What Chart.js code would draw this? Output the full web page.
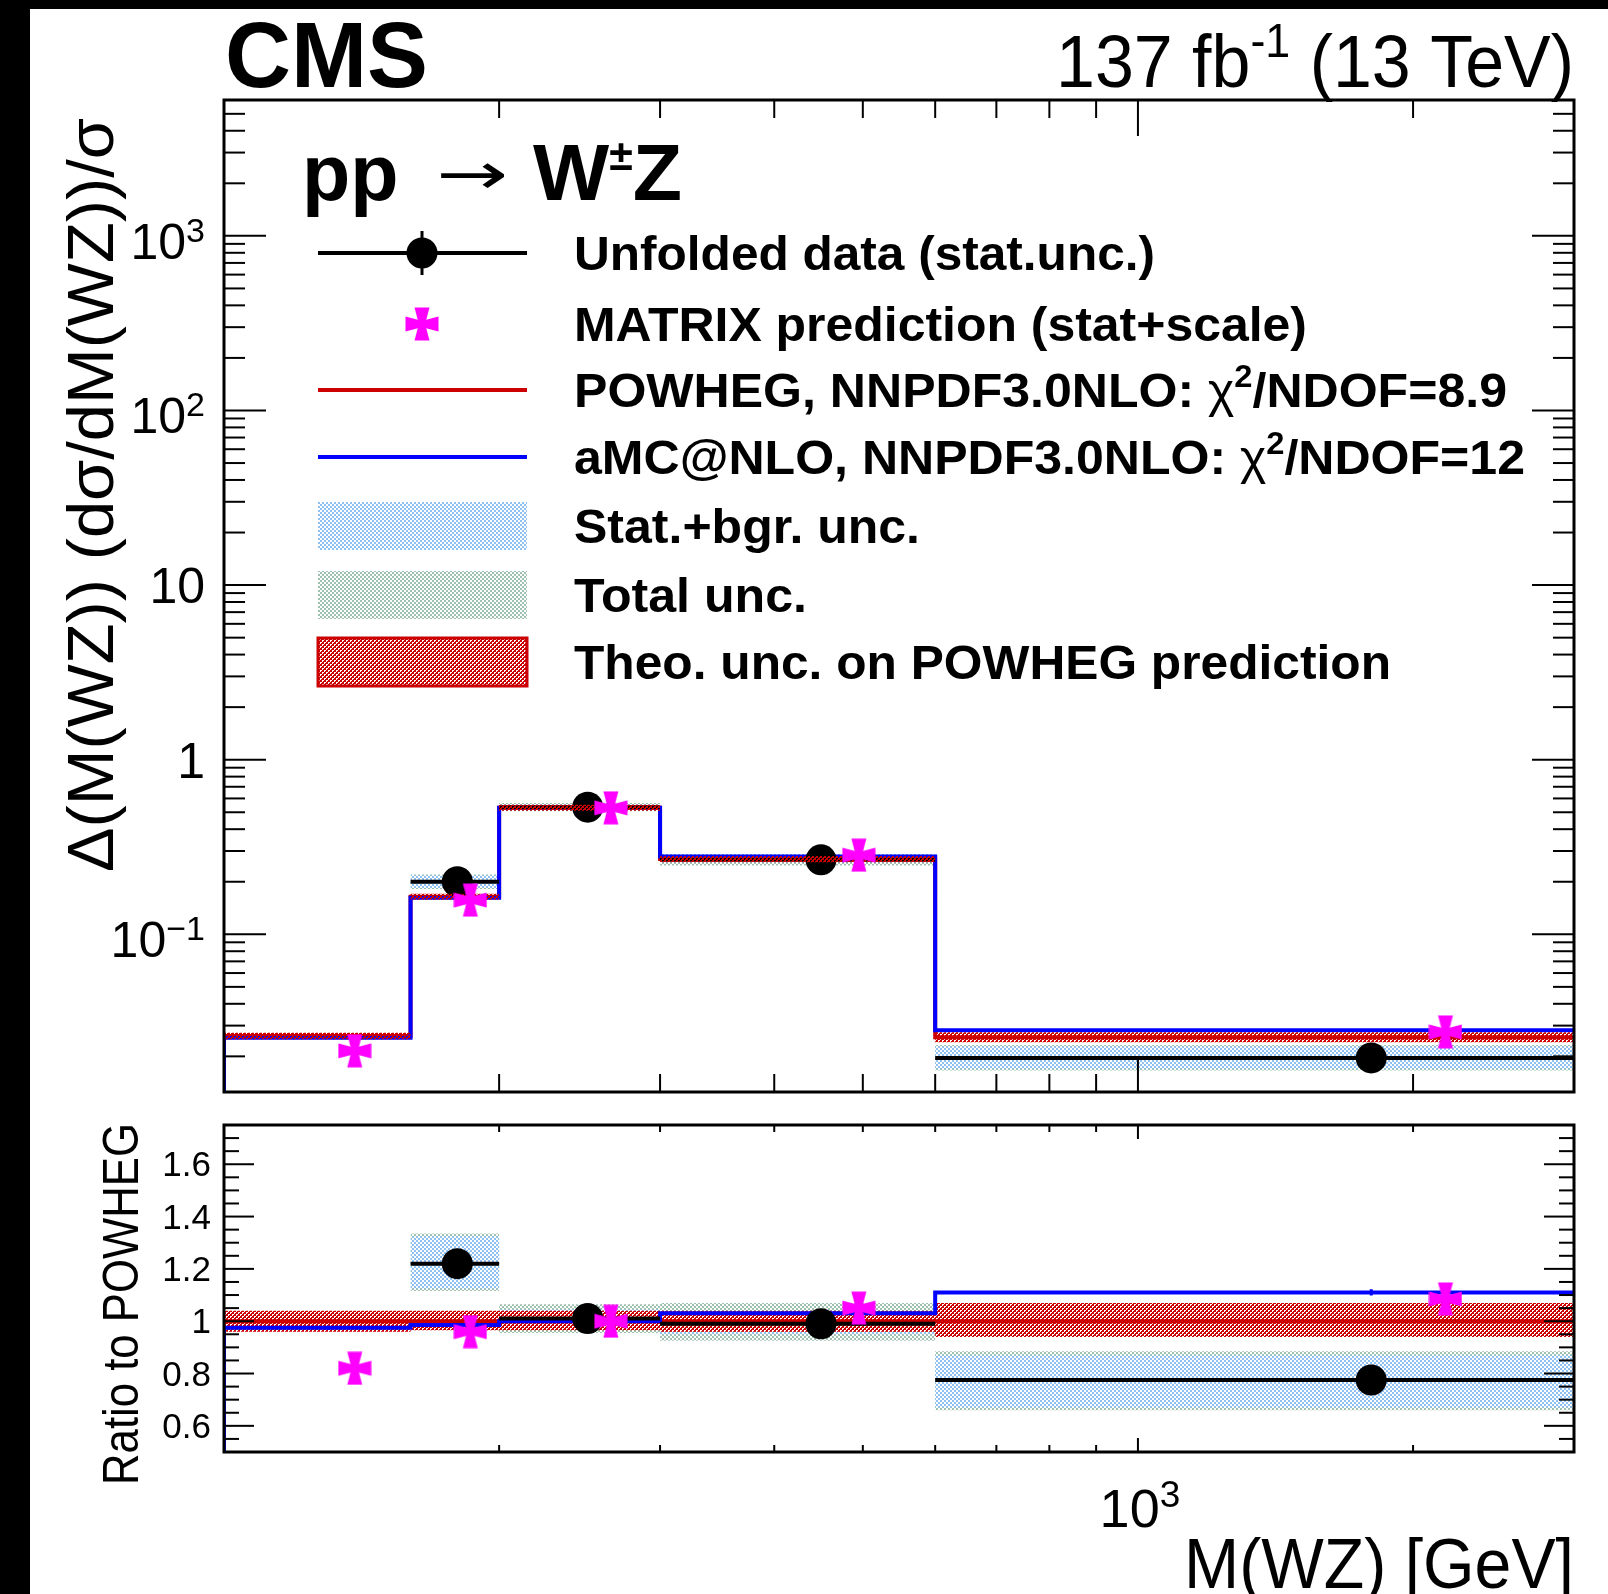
<!DOCTYPE html>
<html>
<head>
<meta charset="utf-8">
<title>WZ invariant mass</title>
<script src="https://cdn.jsdelivr.net/npm/chart.js@4.4.1/dist/chart.umd.min.js"></script>
<style>
  html, body { margin: 0; padding: 0; background: #fff; }
  #page { position: relative; width: 1608px; height: 1594px; overflow: hidden; background: #fff; }
  #page canvas { position: absolute; left: 0; top: 0; }
  .edge-top { position: absolute; left: 0; top: 0; width: 1608px; height: 9px; background: #000; }
  .edge-left { position: absolute; left: 0; top: 0; width: 30px; height: 1594px; background: #000; }
</style>
</head>
<body>
<div id="page">
  <canvas id="upper" width="1608" height="1594"></canvas>
  <canvas id="lower" width="1608" height="1594"></canvas>
  <div class="edge-top"></div>
  <div class="edge-left"></div>
</div>
<script>
// bins in M(WZ) [GeV] and where the markers sit inside them
const binEdges = [100, 160, 200, 300, 600, 3000];
const dataMass = [130, 180, 250, 450, 1800];
const matrixMass = [139, 186, 265, 495, 2170];

// upper pad: normalised differential cross section
const powhegXs = [0.0262, 0.164, 0.530, 0.270, 0.0257];
const amcXs = [0.0256, 0.162, 0.530, 0.279, 0.0282];
const matrixXs = [0.0215, 0.157, 0.530, 0.284, 0.0276];
const dataXs = [null, 0.200, 0.535, 0.267, 0.0196];
const dataXsErr = [null, 0.005, 0.008, 0.004, 0.0009];
const statLoXs = [null, 0.184, 0.515, 0.257, 0.0170];
const statHiXs = [null, 0.217, 0.555, 0.278, 0.0228];
const totalLoXs = [null, 0.182, 0.506, 0.248, 0.0166];
const totalHiXs = [null, 0.220, 0.565, 0.288, 0.0232];
const theoLoXs = [0.0251, 0.158, 0.510, 0.259, 0.0241];
const theoHiXs = [0.0273, 0.171, 0.552, 0.281, 0.0275];

// lower pad: ratio to POWHEG
const ratioPowheg = [1, 1, 1, 1, 1];
const ratioPowhegErr = [0.006, 0.006, 0.004, 0.004, 0.008];
const ratioAmc = [0.975, 0.985, 1.0, 1.03, 1.11];
const ratioAmcErr = [0.008, 0.008, 0.005, 0.005, 0.012];
const ratioMatrix = [0.82, 0.96, 1.0, 1.05, 1.085];
const ratioData = [null, 1.22, 1.01, 0.99, 0.775];
const ratioDataErr = [null, 0.032, 0.015, 0.012, 0.045];
const ratioStatLo = [null, 1.125, 0.975, 0.95, 0.67];
const ratioStatHi = [null, 1.325, 1.045, 1.035, 0.87];
const ratioTotalLo = [null, 1.115, 0.955, 0.925, 0.66];
const ratioTotalHi = [null, 1.335, 1.065, 1.07, 0.885];
const ratioTheoLo = [0.96, 0.965, 0.965, 0.96, 0.94];
const ratioTheoHi = [1.04, 1.04, 1.04, 1.04, 1.07];

// axis ranges and tick labels
const massRange = [100, 3000];
const xsRange = [0.0125, 6000];
const ratioRange = [0.5, 1.75];
const xMinorTicks = [200, 300, 400, 500, 600, 700, 800, 900, 2000];
const xMajorTicks = [1000];
const xTickLabels = [['10', '3']];
const yTickValues = [0.1, 1, 10, 100, 1000];
const yTickLabels = [['10', '\u22121'], ['1', ''], ['10', ''], ['10', '2'], ['10', '3']];
const ratioTickValues = [0.6, 0.8, 1, 1.2, 1.4, 1.6];
const ratioTickLabels = ['0.6', '0.8', '1', '1.2', '1.4', '1.6'];

const FAMILY = '"Liberation Sans", Arial, Helvetica, sans-serif';
const font = (size, bold) => (bold ? 'bold ' : '') + size + 'px ' + FAMILY;

const RED = '#cc0000';
const BLUE = '#0000ff';
const MAGENTA = '#ff00ff';

// ROOT-like fill patterns: coloured 2px cells, transparent in between
function checker(color, dense) {
  const tile = document.createElement('canvas');
  tile.width = 4; tile.height = 4;
  const g = tile.getContext('2d');
  g.fillStyle = color;
  g.fillRect(0, 0, 2, 2);
  g.fillRect(2, 2, 2, 2);
  if (dense) {
    g.fillRect(3, 1, 1, 1);
    g.fillRect(1, 3, 1, 1);
  }
  return g.createPattern(tile, 'repeat');
}
const statFill = checker('#8ec0f2');
const totalFill = checker('#9fc2b0');
const theoFill = checker(RED, true);

// MATRIX marker: four flared arms
function makeStar() {
  const c = document.createElement('canvas');
  c.width = 34; c.height = 34;
  const g = c.getContext('2d');
  g.fillStyle = MAGENTA;
  g.translate(17, 17);
  for (let k = 0; k < 4; k++) {
    g.beginPath();
    g.moveTo(-3, 0.5);
    g.lineTo(-7.5, -16.5);
    g.lineTo(7.5, -16.5);
    g.lineTo(3, 0.5);
    g.closePath();
    g.fill();
    g.rotate(Math.PI / 2);
  }
  return c;
}
const star = makeStar();

// histogram outline: a point at every low edge plus the last high edge
function histo(vals, floor) {
  const pts = [];
  let last = -1;
  vals.forEach((v, i) => {
    if (v === null) return;
    pts.push({ x: binEdges[i], y: v });
    last = i;
  });
  pts.push({ x: binEdges[last + 1], y: vals[last] });
  if (floor !== undefined) pts.unshift({ x: binEdges[0], y: floor });
  return pts;
}

// horizontal bars spanning each bin, broken by null points
function binBars(vals) {
  const pts = [];
  vals.forEach((v, i) => {
    if (v === null) return;
    pts.push({ x: binEdges[i], y: v }, { x: binEdges[i + 1], y: v }, { x: binEdges[i + 1], y: null });
  });
  return pts;
}

function errBars(xs, vals, errs) {
  const pts = [];
  vals.forEach((v, i) => {
    if (v === null) return;
    pts.push({ x: xs[i], y: v - errs[i] }, { x: xs[i], y: v + errs[i] }, { x: xs[i], y: null });
  });
  return pts;
}

const markers = (xs, vals) => vals.map((v, i) => ({ x: xs[i], y: v }));

// invisible stepped edges that only carry a band fill
const edge = (data, extra) => Object.assign(
  { data, stepped: true, borderWidth: 0, borderColor: 'transparent', pointRadius: 0, order: 20 }, extra || {});

function padDatasets(p) {
  const sets = [
    { data: markers(matrixMass, p.matrix), showLine: false, pointStyle: star, pointRadius: 16, order: 0 },
    { data: markers(dataMass, p.data), showLine: false, pointStyle: 'circle', pointRadius: 15.5,
      pointBackgroundColor: '#000', pointBorderColor: '#000', pointBorderWidth: 0, order: 2 },
    { data: binBars(p.data), borderColor: '#000', borderWidth: 4, pointRadius: 0, order: 2 },
    { data: errBars(dataMass, p.data, p.dataErr), borderColor: '#000', borderWidth: 3, pointRadius: 0, order: 2 },
    { data: histo(p.amc, p.floor), stepped: true, borderColor: BLUE, borderWidth: 4, pointRadius: 0, order: 3 },
    { data: histo(p.powheg), stepped: true, borderColor: RED, borderWidth: 4, pointRadius: 0, order: 4 },
    edge(histo(p.theoLo)),                                                                  // 6
    edge(histo(p.theoHi), { fill: 6, backgroundColor: theoFill, order: p.theoOrder }),
    edge(histo(p.statLo)),                                                                  // 8
    edge(histo(p.statHi), { fill: 8, backgroundColor: statFill, order: 6 }),
    edge(histo(p.totalLo)),                                                                 // 10
    edge(histo(p.totalHi), { fill: 10, backgroundColor: totalFill, order: 7 })
  ];
  if (p.amcErr) {
    sets.push({ data: errBars(dataMass, p.amc, p.amcErr), borderColor: BLUE, borderWidth: 3, pointRadius: 0, order: 3 });
    sets.push({ data: errBars(dataMass, p.powheg, p.powhegErr), borderColor: RED, borderWidth: 3, pointRadius: 0, order: 4 });
  }
  return sets;
}

// text made of pieces (superscripts, symbol glyphs), optionally squeezed to a width
function richText(ctx, parts, x, y, align, fitWidth) {
  let w = 0;
  const pieces = parts.map(([t, f, dy]) => {
    ctx.font = f;
    const pw = ctx.measureText(t).width;
    w += pw;
    return { t, f, dy: dy || 0, pw };
  });
  const sx = fitWidth ? fitWidth / w : 1;
  ctx.save();
  ctx.translate(x, y);
  ctx.scale(sx, 1);
  ctx.textAlign = 'left';
  ctx.textBaseline = 'alphabetic';
  let cx = align === 'right' ? -w : align === 'center' ? -w / 2 : 0;
  pieces.forEach(s => {
    ctx.font = s.f;
    ctx.fillText(s.t, cx, s.dy);
    cx += s.pw;
  });
  ctx.restore();
}

function seg(ctx, x0, y0, x1, y1) {
  ctx.beginPath();
  ctx.moveTo(x0, y0);
  ctx.lineTo(x1, y1);
  ctx.stroke();
}

function xTicks(ctx, a, xs, minor, major) {
  xMinorTicks.concat(xMajorTicks).forEach(v => {
    const px = xs.getPixelForValue(v);
    const len = xMajorTicks.includes(v) ? major : minor;
    seg(ctx, px, a.bottom, px, a.bottom - len);
    seg(ctx, px, a.top, px, a.top + len);
  });
}

const B49 = font(49, true);
const R49 = font(49, false);
const S32 = font(32, true);
const legendLabels = [
  [['Unfolded data (stat.unc.)', B49]],
  [['MATRIX prediction (stat+scale)', B49]],
  [['POWHEG, NNPDF3.0NLO: ', B49], ['\u03c7', R49], ['2', S32, -20], ['/NDOF=8.9', B49]],
  [['aMC@NLO, NNPDF3.0NLO: ', B49], ['\u03c7', R49], ['2', S32, -20], ['/NDOF=12', B49]],
  [['Stat.+bgr. unc.', B49]],
  [['Total unc.', B49]],
  [['Theo. unc. on POWHEG prediction', B49]]
];
const legendWidths = [581, 733, 933, 951, 346, 233, 817];

function drawLegend(ctx) {
  const x0 = 318, x1 = 527, xm = 422, tx = 574;
  const rows = [253, 324, 390, 457, 526, 595, 662];
  ctx.save();
  // data
  ctx.strokeStyle = '#000';
  ctx.lineWidth = 4;
  seg(ctx, x0, rows[0], x1, rows[0]);
  ctx.lineWidth = 3;
  seg(ctx, xm, rows[0] - 22, xm, rows[0] + 22);
  ctx.fillStyle = '#000';
  ctx.beginPath();
  ctx.arc(xm, rows[0], 15.5, 0, Math.PI * 2);
  ctx.fill();
  // MATRIX
  ctx.drawImage(star, xm - 17, rows[1] - 17);
  // POWHEG and aMC@NLO lines
  ctx.lineWidth = 4;
  ctx.strokeStyle = RED;
  seg(ctx, x0, rows[2], x1, rows[2]);
  ctx.strokeStyle = BLUE;
  seg(ctx, x0, rows[3], x1, rows[3]);
  // uncertainty boxes
  ctx.fillStyle = statFill;
  ctx.fillRect(x0, rows[4] - 24, x1 - x0, 48);
  ctx.fillStyle = totalFill;
  ctx.fillRect(x0, rows[5] - 24, x1 - x0, 48);
  ctx.fillStyle = theoFill;
  ctx.fillRect(x0, rows[6] - 24, x1 - x0, 48);
  ctx.strokeStyle = RED;
  ctx.lineWidth = 3;
  ctx.strokeRect(x0, rows[6] - 24, x1 - x0, 48);
  // labels
  ctx.fillStyle = '#000';
  legendLabels.forEach((parts, i) => richText(ctx, parts, tx, rows[i] + 17, 'left', legendWidths[i]));
  ctx.restore();
}

const upperDecor = {
  id: 'upperDecor',
  afterDraw(chart) {
    const { ctx, chartArea: a } = chart;
    const xs = chart.scales.x, ys = chart.scales.y;
    ctx.save();
    ctx.strokeStyle = '#000';
    ctx.fillStyle = '#000';
    ctx.lineWidth = 2;
    xTicks(ctx, a, xs, 18, 36);
    for (let d = -2; d <= 3; d++) {
      for (let k = 1; k <= 9; k++) {
        const v = k * Math.pow(10, d);
        if (v <= ys.min || v >= ys.max) continue;
        const py = ys.getPixelForValue(v);
        const len = k === 1 ? 42 : 21;
        seg(ctx, a.left, py, a.left + len, py);
        seg(ctx, a.right, py, a.right - len, py);
      }
    }
    ctx.lineWidth = 3;
    ctx.strokeRect(a.left, a.top, a.width, a.height);

    // y tick labels
    yTickValues.forEach((v, i) => {
      const py = ys.getPixelForValue(v);
      const [base, sup] = yTickLabels[i];
      if (sup) richText(ctx, [[base, font(50)], [sup, font(34), -17]], 205, py + 23, 'right');
      else richText(ctx, [[base, font(50)]], 205, py + 18, 'right');
    });

    // y title
    ctx.save();
    ctx.translate(113, 118);
    ctx.rotate(-Math.PI / 2);
    richText(ctx, [['\u0394(M(WZ)) (d\u03c3/dM(WZ))/\u03c3', font(64)]], 0, 0, 'right', 754);
    ctx.restore();

    // header
    richText(ctx, [['CMS', font(92, true)]], 225, 87, 'left', 203);
    richText(ctx, [['137 fb', font(75)], ['-1', font(48), -30], [' (13 TeV)', font(75)]], 1574, 87, 'right', 518);

    // process label
    richText(ctx, [['pp', font(79, true)]], 302, 200, 'left');
    richText(ctx, [['\u2192', '58px "DejaVu Sans", sans-serif']], 436, 194, 'left', 72);
    richText(ctx, [['W', font(79, true)], ['\u00b1', font(42, true), -30], ['Z', font(79, true)]], 533, 200, 'left', 149);

    drawLegend(ctx);
    ctx.restore();
  }
};

const lowerDecor = {
  id: 'lowerDecor',
  afterDraw(chart) {
    const { ctx, chartArea: a } = chart;
    const xs = chart.scales.x, ys = chart.scales.y;
    ctx.save();
    ctx.strokeStyle = '#000';
    ctx.fillStyle = '#000';
    ctx.lineWidth = 2;
    xTicks(ctx, a, xs, 7, 14);
    for (let i = 11; i <= 34; i++) {
      const v = i * 0.05;
      const major = i % 4 === 0;
      const py = ys.getPixelForValue(v);
      const len = major ? 30 : 15;
      seg(ctx, a.left, py, a.left + len, py);
      seg(ctx, a.right, py, a.right - len, py);
    }
    ctx.lineWidth = 3;
    ctx.strokeRect(a.left, a.top, a.width, a.height);

    ratioTickValues.forEach((v, i) => {
      richText(ctx, [[ratioTickLabels[i], font(35)]], 211, ys.getPixelForValue(v) + 12, 'right');
    });

    ctx.save();
    ctx.translate(138, 1123);
    ctx.rotate(-Math.PI / 2);
    richText(ctx, [['Ratio to POWHEG', font(50)]], 0, 0, 'right', 362);
    ctx.restore();

    xMajorTicks.forEach((v, i) => {
      const [base, sup] = xTickLabels[i];
      richText(ctx, [[base, font(54)], [sup, font(37), -20]], xs.getPixelForValue(v) + 2, 1527, 'center');
    });
    richText(ctx, [['M(WZ) [GeV]', font(70)]], 1574, 1588, 'right', 390);
    ctx.restore();
  }
};

function makePad(canvasId, padding, yOpts, datasets, decor) {
  return new Chart(document.getElementById(canvasId), {
    type: 'line',
    data: { datasets },
    options: {
      responsive: false,
      animation: false,
      devicePixelRatio: 1,
      events: [],
      layout: { padding },
      plugins: { legend: { display: false }, tooltip: { enabled: false } },
      elements: { line: { tension: 0 } },
      scales: {
        x: { type: 'logarithmic', min: massRange[0], max: massRange[1], display: false },
        y: Object.assign({ display: false }, yOpts)
      }
    },
    plugins: [decor]
  });
}

makePad('upper', { left: 224, top: 100, right: 34, bottom: 502 },
  { type: 'logarithmic', min: xsRange[0], max: xsRange[1] },
  padDatasets({
    matrix: matrixXs, data: dataXs, dataErr: dataXsErr, amc: amcXs, powheg: powhegXs, floor: xsRange[0],
    theoLo: theoLoXs, theoHi: theoHiXs, theoOrder: 1,
    statLo: statLoXs, statHi: statHiXs, totalLo: totalLoXs, totalHi: totalHiXs
  }),
  upperDecor);

makePad('lower', { left: 224, top: 1125, right: 34, bottom: 142 },
  { type: 'linear', min: ratioRange[0], max: ratioRange[1] },
  padDatasets({
    matrix: ratioMatrix, data: ratioData, dataErr: ratioDataErr, amc: ratioAmc, powheg: ratioPowheg, floor: ratioRange[0],
    amcErr: ratioAmcErr, powhegErr: ratioPowhegErr,
    theoLo: ratioTheoLo, theoHi: ratioTheoHi, theoOrder: 5,
    statLo: ratioStatLo, statHi: ratioStatHi, totalLo: ratioTotalLo, totalHi: ratioTotalHi
  }),
  lowerDecor);
</script>
</body>
</html>
